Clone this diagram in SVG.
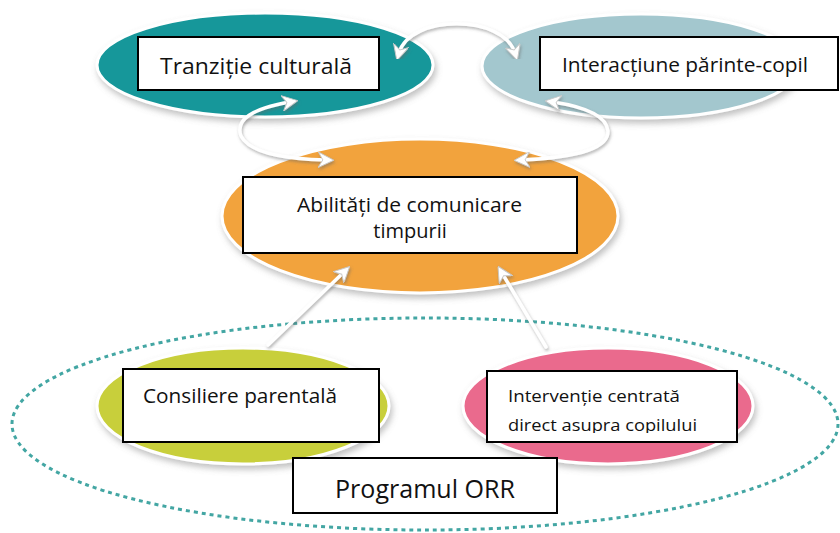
<svg xmlns="http://www.w3.org/2000/svg" width="840" height="533" viewBox="0 0 840 533">
<defs>
<filter id="sh" x="-10%" y="-10%" width="120%" height="130%">
<feDropShadow dx="2" dy="4" stdDeviation="3" flood-color="#777" flood-opacity="0.45"/>
</filter>
<filter id="ash" x="-20%" y="-20%" width="140%" height="140%">
<feDropShadow dx="1" dy="2" stdDeviation="1.5" flood-color="#666" flood-opacity="0.5"/>
</filter>
<marker id="ah" viewBox="0 0 10 10" refX="5" refY="5" markerWidth="4.5" markerHeight="4.5" orient="auto-start-reverse" markerUnits="strokeWidth">
<path d="M0,0 L10,5 L0,10 L3,5 Z" fill="#ffffff" stroke="#c8c8c8" stroke-width="0.6"/>
</marker>
<clipPath id="clipInt"><rect x="487" y="371" width="250" height="62"/></clipPath>
</defs>
<style>
.ell{stroke:#ffffff;stroke-width:3;filter:url(#sh)}
.box{fill:#ffffff;stroke:#000000;stroke-width:2}
.t{font-family:"Open Sans","Liberation Sans",sans-serif;fill:#111111}
.arr{fill:none;stroke:#ffffff;stroke-width:3.5;stroke-linecap:round;filter:url(#ash);marker-end:url(#ah)}
.arr2{marker-start:url(#ah)}
</style>
<rect width="840" height="533" fill="#ffffff"/>

<g id="programul-orr-ring">
<ellipse cx="425" cy="424" rx="413" ry="106" fill="none" stroke="#43a6a3" stroke-width="3" stroke-dasharray="4 4"/>
</g>

<g id="node-tranzitie">
<ellipse class="ell" cx="265" cy="65" rx="168" ry="52" fill="#17979a"/>
<rect class="box" x="138" y="37" width="241" height="53"/>
<text class="t" x="160" y="74" font-size="22" textLength="192" lengthAdjust="spacingAndGlyphs">Tranziție culturală</text>
</g>

<g id="node-interactiune">
<ellipse class="ell" cx="641" cy="66" rx="159" ry="52" fill="#a3c7ce"/>
<rect class="box" x="540" y="37" width="298" height="53"/>
<text class="t" x="562" y="72" font-size="20" textLength="246" lengthAdjust="spacingAndGlyphs">Interacțiune părinte-copil</text>
</g>

<g id="node-abilitati">
<ellipse class="ell" cx="420" cy="216" rx="198" ry="77" fill="#f2a33c"/>
<rect class="box" x="243" y="177" width="334" height="76"/>
<text class="t" x="297" y="212" font-size="20" textLength="225" lengthAdjust="spacingAndGlyphs">Abilități de comunicare</text>
<text class="t" x="410" y="238" font-size="20" text-anchor="middle">timpurii</text>
</g>

<g id="node-consiliere">
<ellipse class="ell" cx="243" cy="406" rx="146" ry="58" fill="#c8cf3b"/>
<rect class="box" x="123" y="369" width="256" height="73"/>
<text class="t" x="143" y="403" font-size="20" textLength="194" lengthAdjust="spacingAndGlyphs">Consiliere parentală</text>
</g>

<g id="node-interventie">
<ellipse class="ell" cx="608" cy="406" rx="145" ry="58" fill="#ea6b8d"/>
<rect class="box" x="487" y="371" width="250" height="71"/>
<g clip-path="url(#clipInt)">
<text class="t" x="508" y="402" font-size="17" textLength="172" lengthAdjust="spacingAndGlyphs">Intervenție centrată</text>
<text class="t" x="508" y="431" font-size="17" textLength="189" lengthAdjust="spacingAndGlyphs">direct asupra copilului</text>
</g>
</g>

<g id="connectors">
<path class="arr arr2" d="M399,53 C410,14 503,14 515,53"/>
<path class="arr arr2" d="M290,102 Q232,112 241,136 Q252,158 326,160"/>
<path class="arr arr2" d="M553,102 Q606,110 608,131 Q609,156 522,160"/>
<path class="arr" d="M268,345 L344,272"/>
<path class="arr" d="M546,347 L502,273"/>
</g>

<g id="label-programul">
<rect class="box" x="293" y="458" width="264" height="55"/>
<text class="t" x="335" y="498" font-size="25" textLength="180" lengthAdjust="spacingAndGlyphs">Programul ORR</text>
</g>
</svg>
